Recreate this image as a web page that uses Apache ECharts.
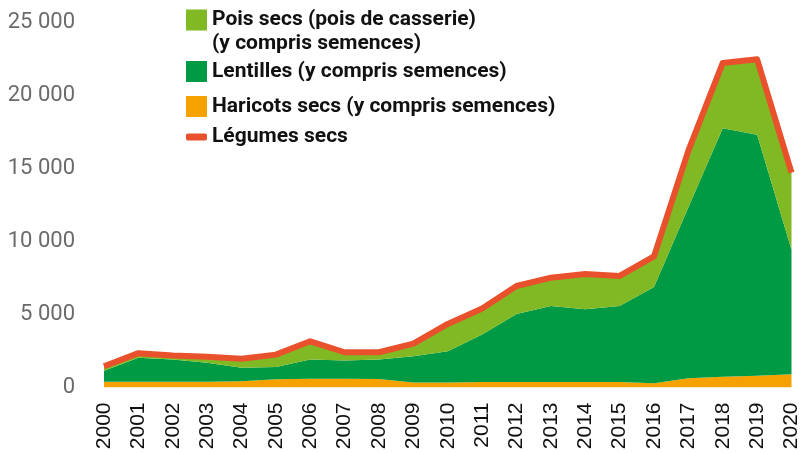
<!DOCTYPE html>
<html>
<head>
<meta charset="utf-8">
<title>Légumes secs</title>
<script src="https://cdn.jsdelivr.net/npm/echarts@6/dist/echarts.min.js"></script>
<style>
  html, body { margin: 0; padding: 0; background: #fff; }
  #chart { width: 802px; height: 453px; }
</style>
</head>
<body>
<div id="chart"></div>
<script>
// années
var years = ['2000', '2001', '2002', '2003', '2004', '2005', '2006', '2007', '2008', '2009', '2010',
  '2011', '2012', '2013', '2014', '2015', '2016', '2017', '2018', '2019', '2020'];

// valeurs
var haricots = [400, 400, 400, 400, 430, 560, 600, 600, 580, 350, 350,
  380, 380, 380, 380, 380, 290, 630, 740, 800, 900];
var lentilles = [750, 1630, 1510, 1290, 920, 850, 1310, 1240, 1330, 1790, 2130,
  3240, 4650, 5200, 4970, 5200, 6590, 11700, 16990, 16480, 8530];
var pois = [300, 320, 280, 410, 610, 840, 1250, 570, 500, 860, 1870,
  1780, 1910, 1930, 2410, 2050, 2090, 3870, 4470, 5170, 5270];
var legumes = [1450, 2350, 2190, 2100, 1960, 2250, 3160, 2410, 2410, 3000, 4350,
  5400, 6940, 7510, 7760, 7630, 8970, 16200, 22200, 22450, 14700];

var yTicks = [0, 5000, 10000, 15000, 20000, 25000];

var names = {
  pois: 'Pois secs (pois de casserie)',
  lentilles: 'Lentilles (y compris semences)',
  haricots: 'Haricots secs (y compris semences)',
  legumes: 'Légumes secs'
};

var colors = {
  pois: '#80b923',
  lentilles: '#009a44',
  haricots: '#f5a100',
  legumes: '#e8512c'
};

var legendText = {
  fontFamily: 'Roboto',
  fontWeight: 'bold',
  fontSize: 21,
  color: '#111'
};

function areaSerie(name, data, color) {
  return {
    name: name,
    type: 'line',
    stack: 'total',
    data: data,
    symbol: 'none',
    color: color,
    lineStyle: { width: 0 },
    areaStyle: { color: color, opacity: 1 },
    silent: true
  };
}

function oneLegend(top, name, icon, h, extra) {
  return {
    left: 186, top: top, padding: 0,
    itemWidth: 21, itemHeight: h, itemGap: 0,
    data: [{ name: name, icon: icon }],
    formatter: extra ? extra.formatter : undefined,
    textStyle: Object.assign({}, legendText, extra ? extra.textStyle : {}),
    itemStyle: { borderWidth: 0 },
    selectedMode: false
  };
}

var chart = echarts.init(document.getElementById('chart'));

chart.setOption({
  animation: false,
  grid: { left: 104, right: 7, top: 22, bottom: 65.5 },
  legend: [
    // ligne vide devant pour caler le carré sur la 1re ligne
    oneLegend(-16, names.pois, 'rect', 21, {
      formatter: function () { return '\nPois secs (pois de casserie)\n(y compris semences)'; },
      textStyle: { lineHeight: 24 }
    }),
    oneLegend(61, names.lentilles, 'rect', 21),
    oneLegend(96, names.haricots, 'rect', 21),
    oneLegend(126.5, names.legumes, 'roundRect', 7)
  ],
  xAxis: {
    type: 'category',
    data: years,
    boundaryGap: false,
    axisLine: { show: false },
    axisTick: { show: false },
    axisLabel: {
      rotate: 90,
      margin: 15,
      interval: 0,
      fontFamily: 'Liberation Sans',
      fontSize: 21,
      color: '#111'
    }
  },
  yAxis: {
    type: 'value',
    min: yTicks[0],
    max: yTicks[yTicks.length - 1],
    interval: yTicks[1] - yTicks[0],
    axisLine: { show: false },
    axisTick: { show: false },
    splitLine: { show: false },
    axisLabel: {
      margin: 29,
      fontFamily: 'Roboto',
      fontSize: 22,
      color: '#6b6b6b',
      formatter: function (v) {
        return String(v).replace(/\B(?=(\d{3})+(?!\d))/g, ' ');
      }
    }
  },
  series: [
    areaSerie(names.haricots, haricots, colors.haricots),
    areaSerie(names.lentilles, lentilles, colors.lentilles),
    areaSerie(names.pois, pois, colors.pois),
    {
      name: names.legumes,
      type: 'line',
      data: legumes,
      symbol: 'none',
      color: colors.legumes,
      z: 5,
      lineStyle: { width: 6, color: colors.legumes, join: 'round' },
      silent: true
    }
  ]
});
</script>
</body>
</html>
